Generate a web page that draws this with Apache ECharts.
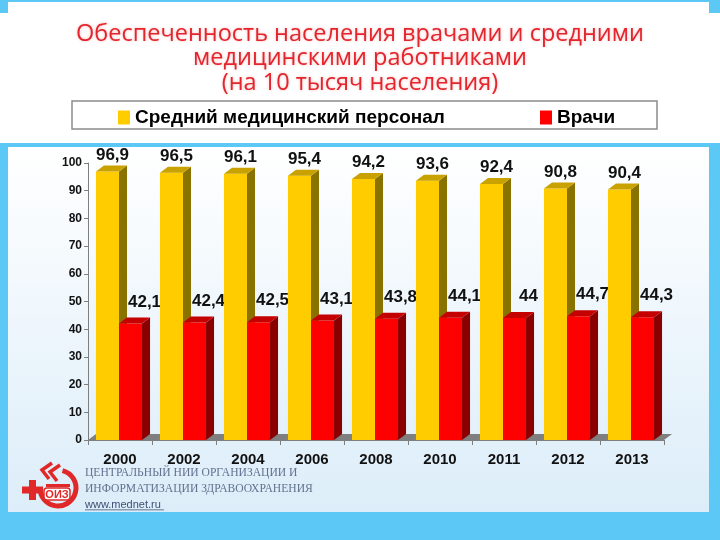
<!DOCTYPE html>
<html><head><meta charset="utf-8">
<script src="https://cdn.jsdelivr.net/npm/echarts@6/dist/echarts.min.js"></script>
<style>html,body{margin:0;padding:0;background:#5BC8F5;overflow:hidden}#c{width:720px;height:540px}</style>
</head><body><div id="c"></div>
<script>
const years = ['2000', '2002', '2004', '2006', '2008', '2010', '2011', '2012', '2013'];
const nurses = [96.9, 96.5, 96.1, 95.4, 94.2, 93.6, 92.4, 90.8, 90.4];
const doctors = [42.1, 42.4, 42.5, 43.1, 43.8, 44.1, 44, 44.7, 44.3];
const seriesNames = ['Средний медицинский персонал', 'Врачи'];
const titleLines = ['Обеспеченность населения врачами и средними', 'медицинскими работниками', '(на 10 тысяч населения)'];
const yMin = 0, yMax = 100, yStep = 10;
const footerLines = ['ЦЕНТРАЛЬНЫЙ НИИ ОРГАНИЗАЦИИ И', 'ИНФОРМАТИЗАЦИИ ЗДРАВООХРАНЕНИЯ', 'www.mednet.ru'];

const colors = {
  yellow: {front: '#FFCC00', side: '#8A7200', top: '#C9A200'},
  red: {front: '#FF0000', side: '#8A0000', top: '#C40000'}
};
const fmt = v => String(v).replace('.', ',');

const chartData = years.map((y, i) => [i, nurses[i], doctors[i]]);

function renderItem(params, api) {
  const i = api.value(0);
  const c = api.coord([i, 0]);
  const band = api.size([1, 0])[0];
  const w = band * 0.36;
  const dx = 8, dy = 6;
  const base = c[1];
  const children = [];
  const bars = [
    {v: api.value(1), x0: c[0] - w - 1, col: colors.yellow, lx: 5, ly: 2},
    {v: api.value(2), x0: c[0] - 1, col: colors.red, lx: 14, ly: 7}
  ];
  bars.forEach(b => {
    const yTop = api.coord([i, b.v])[1];
    const x1 = b.x0 + w;
    children.push({type: 'rect', shape: {x: b.x0, y: yTop, width: w, height: base - yTop}, style: {fill: b.col.front}});
    children.push({type: 'polygon', shape: {points: [[x1, yTop], [x1 + dx, yTop - dy], [x1 + dx, base - dy], [x1, base]]}, style: {fill: b.col.side}});
    children.push({type: 'polygon', shape: {points: [[b.x0, yTop], [b.x0 + dx, yTop - dy], [x1 + dx, yTop - dy], [x1, yTop]]}, style: {fill: b.col.top}});
    children.push({type: 'text', style: {text: fmt(b.v), x: (b.x0 + x1) / 2 + b.lx, y: yTop - dy - b.ly, align: 'center', verticalAlign: 'bottom', font: 'bold 17px "Liberation Sans", Arial, sans-serif', fill: '#111'}});
  });
  return {type: 'group', children};
}

const chart = echarts.init(document.getElementById('c'), null, {renderer: 'canvas'});
const gl = 88, gr = 664, gb = 440;
const legendText = {fontFamily: '"Liberation Sans", Arial, sans-serif', fontWeight: 'bold', fontSize: 19, color: '#000'};
chart.setOption({
  backgroundColor: '#5BC8F5',
  animation: false,
  title: titleLines.map((t, k) => ({
    text: t, left: 'center', top: 17 + k * 24.5,
    textStyle: {fontFamily: '"Open Sans", sans-serif', fontWeight: 'normal', fontSize: 23.5, color: '#E3262E', textShadowColor: 'rgba(230,60,60,0.35)', textShadowBlur: 3}
  })),
  legend: [
    {data: [seriesNames[0]], left: 118, top: 108, icon: 'rect', itemWidth: 12, itemHeight: 14, itemGap: 0, textStyle: legendText, padding: 0},
    {data: [seriesNames[1]], left: 540, top: 108, icon: 'rect', itemWidth: 12, itemHeight: 14, itemGap: 0, textStyle: legendText, padding: 0}
  ],
  grid: {left: gl, right: 720 - gr, top: 163, bottom: 540 - gb, containLabel: false},
  xAxis: {
    type: 'category', data: years,
    axisLine: {lineStyle: {color: '#7F7F7F', width: 1}},
    axisTick: {show: true, length: 5, lineStyle: {color: '#7F7F7F'}},
    axisLabel: {margin: 12, fontFamily: '"Liberation Sans", Arial, sans-serif', fontWeight: 'bold', fontSize: 15, color: '#111'}
  },
  yAxis: {
    type: 'value', min: yMin, max: yMax, interval: yStep,
    axisLine: {show: true, lineStyle: {color: '#7F7F7F'}},
    axisTick: {show: true, length: 4, lineStyle: {color: '#7F7F7F'}},
    splitLine: {show: false},
    axisLabel: {margin: 6, fontFamily: '"Liberation Sans", Arial, sans-serif', fontWeight: 'bold', fontSize: 12, color: '#111'}
  },
  series: [
    {type: 'custom', name: 'bars', renderItem, data: chartData, encode: {x: 0, y: [1, 2]}, z: 5, clip: false},
    {type: 'bar', name: seriesNames[0], data: [], itemStyle: {color: colors.yellow.front}},
    {type: 'bar', name: seriesNames[1], data: [], itemStyle: {color: colors.red.front}}
  ],
  graphic: [
    {type: 'rect', z: -10, silent: true, shape: {x: 8, y: 2, width: 701, height: 141}, style: {fill: '#fff'}},
    {type: 'rect', z: -10, silent: true, shape: {x: 0, y: 13, width: 720, height: 130}, style: {fill: '#fff'}},
    {type: 'rect', z: -10, silent: true, shape: {x: 8, y: 147, width: 701, height: 365},
      style: {fill: new echarts.graphic.LinearGradient(0, 0, 0, 1, [{offset: 0, color: '#FFFFFF'}, {offset: 1, color: '#DCEDF9'}])}},
    {type: 'rect', z: -5, silent: true, shape: {x: 72, y: 101, width: 585, height: 28}, style: {fill: '#fff', stroke: '#8C8C8C', lineWidth: 1.5}},
    {type: 'polygon', z: 1, silent: true, shape: {points: [[gl, gb], [gl + 8, gb - 6], [gr + 8, gb - 6], [gr, gb]]}, style: {fill: '#7F7F7F'}},
    // logo
    {type: 'arc', z: 3, silent: true, shape: {cx: 58, cy: 488, r: 18, startAngle: -Math.PI * 0.42, endAngle: Math.PI * 1.0}, style: {stroke: '#E02828', lineWidth: 5, fill: null}},
    {type: 'polyline', z: 3, silent: true, shape: {points: [[52, 463], [42, 470], [49, 479]]}, style: {stroke: '#E02828', lineWidth: 3.5, fill: null}},
    {type: 'polyline', z: 3, silent: true, shape: {points: [[60, 465], [50, 472], [57, 481]]}, style: {stroke: '#E02828', lineWidth: 3.5, fill: null}},
    {type: 'rect', z: 4, silent: true, shape: {x: 22, y: 486.5, width: 21, height: 7}, style: {fill: '#E02828'}},
    {type: 'rect', z: 4, silent: true, shape: {x: 29, y: 480, width: 7, height: 20}, style: {fill: '#E02828'}},
    {type: 'rect', z: 4, silent: true, shape: {x: 46, y: 484, width: 24, height: 3}, style: {fill: '#E02828'}},
    {type: 'rect', z: 4, silent: true, shape: {x: 44, y: 488, width: 26, height: 12, r: 3}, style: {fill: '#fff', stroke: '#E02828', lineWidth: 1.5}},
    {type: 'text', z: 5, silent: true, style: {text: 'ОИЗ', x: 57, y: 494.5, align: 'center', verticalAlign: 'middle', font: 'bold 11px "Liberation Sans", sans-serif', fill: '#E02828'}},
    {type: 'text', z: 3, silent: true, style: {text: footerLines[0], x: 85, y: 473, verticalAlign: 'middle', font: '11.6px "Liberation Serif", serif', fill: '#62728F'}},
    {type: 'text', z: 3, silent: true, style: {text: footerLines[1], x: 85, y: 489, verticalAlign: 'middle', font: '11.6px "Liberation Serif", serif', fill: '#62728F'}},
    {type: 'text', z: 3, silent: true, style: {text: footerLines[2], x: 85, y: 504.5, verticalAlign: 'middle', font: '11px "Liberation Sans Narrow", "Liberation Sans", sans-serif', fill: '#3F4F74'}},
    {type: 'rect', z: 3, silent: true, shape: {x: 85, y: 509.5, width: 79, height: 0.8}, style: {fill: '#3F4F74'}}
  ]
});
</script></body></html>
